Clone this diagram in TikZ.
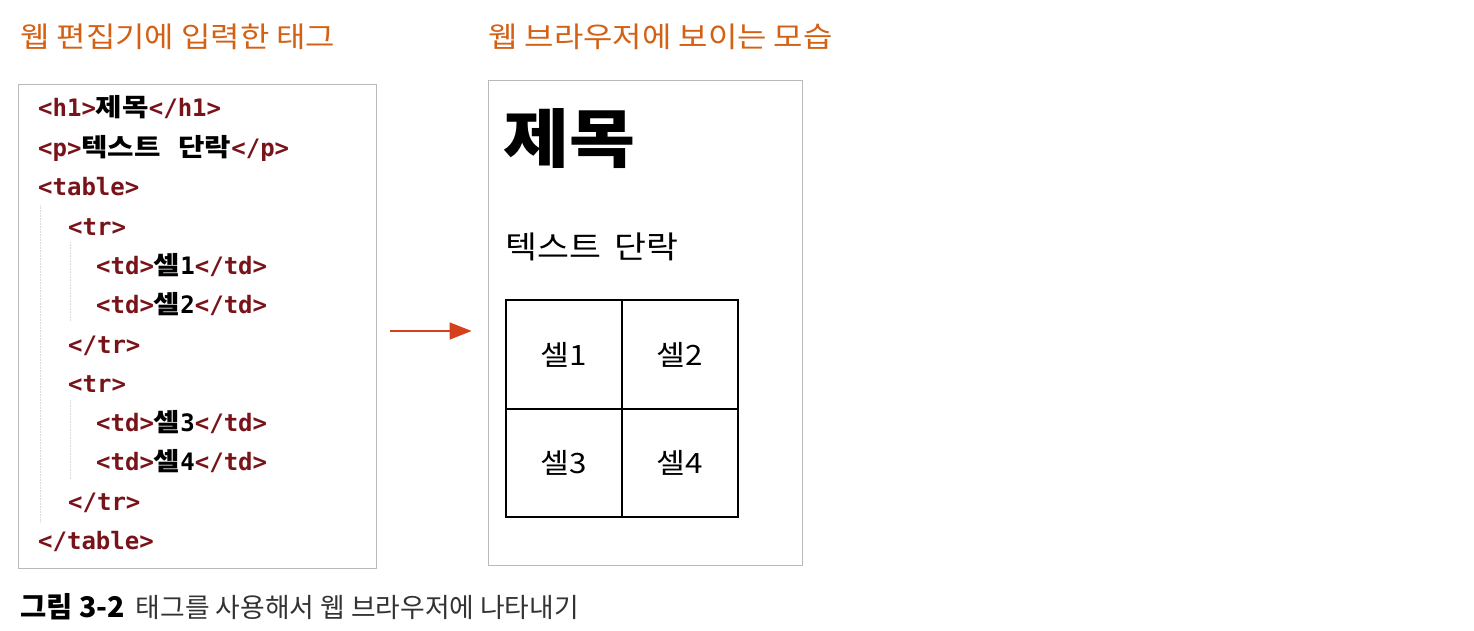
\documentclass[tikz,border=0pt]{standalone}
\usepackage{fontspec}
\setmainfont{Noto Sans CJK KR}
\newfontfamily\codefont{DejaVu Sans Mono}
\newfontfamily\krwide{Noto Sans CJK KR}[FakeStretch=1.12]
\newfontfamily\krcode{Noto Sans CJK KR}[FakeStretch=1.15]
\usetikzlibrary{positioning,calc,arrows.meta}
\definecolor{titleorange}{RGB}{212,96,20}
\definecolor{tagred}{RGB}{120,20,25}
\definecolor{arrowred}{RGB}{214,64,28}
\newcommand{\tg}[1]{{\codefont\bfseries\color{tagred}#1}}
\newcommand{\hg}[1]{{\krcode\fontsize{25}{28}\selectfont\bfseries #1}}
\newcommand{\dg}[1]{{\codefont\bfseries #1}}
\tikzstyle{panel} = [draw=gray!55, line width=0.8pt, inner sep=0pt]
\tikzstyle{heading} = [anchor=base west, inner sep=0pt, text=titleorange, font=\krwide\fontsize{28.5}{32}\selectfont]
\tikzstyle{code} = [anchor=base west, inner sep=0pt, font=\fontsize{24}{28}\selectfont]
\tikzstyle{cell} = [draw, line width=2.2pt, minimum width=116pt, minimum height=108.5pt, inner sep=0pt, font=\krwide\fontsize{28}{30}\selectfont]
\tikzstyle{guide} = [gray!30, line width=0.6pt, densely dotted]

\begin{document}
\begin{tikzpicture}[x=1pt,y=-1pt]
  \useasboundingbox (0,0) rectangle (1474,630);
  % headings
  \node[heading] (edtitle) at (20,47) {웹 편집기에 입력한 태그};
  \node[heading] (brtitle) at (488,47) {웹 브라우저에 보이는 모습};
  % editor panel
  \node[panel, minimum width=358pt, minimum height=484pt] (editor) at (197,326) {};
  \draw[guide] (40,205) -- (40,522);
  \draw[guide] (70,242) -- (70,322);
  \draw[guide] (70,400) -- (70,480);
  \node[code] (l1) at (38,116) {\tg{<h1>}\hg{제목}\tg{</h1>}};
  \node[code] (l2) at (38,156) {\tg{<p>}\hg{텍스트\hspace{11pt} 단락}\tg{</p>}};
  \node[code] (l3) at (38,195) {\tg{<table>}};
  \node[code] (l4) at (68,235) {\tg{<tr>}};
  \node[code] (l5) at (96,274) {\tg{<td>}\hg{셀}\dg{1}\tg{</td>}};
  \node[code] (l6) at (96,313) {\tg{<td>}\hg{셀}\dg{2}\tg{</td>}};
  \node[code] (l7) at (68,353) {\tg{</tr>}};
  \node[code] (l8) at (68,392) {\tg{<tr>}};
  \node[code] (l9) at (96,431) {\tg{<td>}\hg{셀}\dg{3}\tg{</td>}};
  \node[code] (l10) at (96,470) {\tg{<td>}\hg{셀}\dg{4}\tg{</td>}};
  \node[code] (l11) at (68,510) {\tg{</tr>}};
  \node[code] (l12) at (38,549) {\tg{</table>}};
  % browser panel
  \node[panel, minimum width=314pt, minimum height=485pt] (browser) at (645,322.5) {};
  \node[anchor=base west, inner sep=0pt, font=\krwide\fontsize{64}{70}\selectfont\bfseries] (h1) at (503,162) {제목};
  \node[anchor=base west, inner sep=0pt, font=\krwide\fontsize{31}{36}\selectfont] (para) at (505,258) {텍스트\hspace{6pt} 단락};
  \node[cell] (cell1) at (564,354.5) {셀1};
  \node[cell] (cell2) at (680,354.5) {셀2};
  \node[cell] (cell3) at (564,463) {셀3};
  \node[cell] (cell4) at (680,463) {셀4};
  % arrow
  \draw[arrowred, line width=1.5pt, -{Triangle[length=22pt,width=17pt]}]
    ($(editor.east)+(14,5)$) -- ($(browser.west)+(-16,8.5)$);
  % caption
  \node[anchor=base west, inner sep=0pt, font=\fontsize{26.8}{30}\selectfont] (caption) at (20,617)
    {{\fontsize{28.5}{30}\selectfont\bfseries 그림 3-2}\hspace{11pt}{\color{black!80}태그를 사용해서 웹 브라우저에 나타내기}};
\end{tikzpicture}
\end{document}
